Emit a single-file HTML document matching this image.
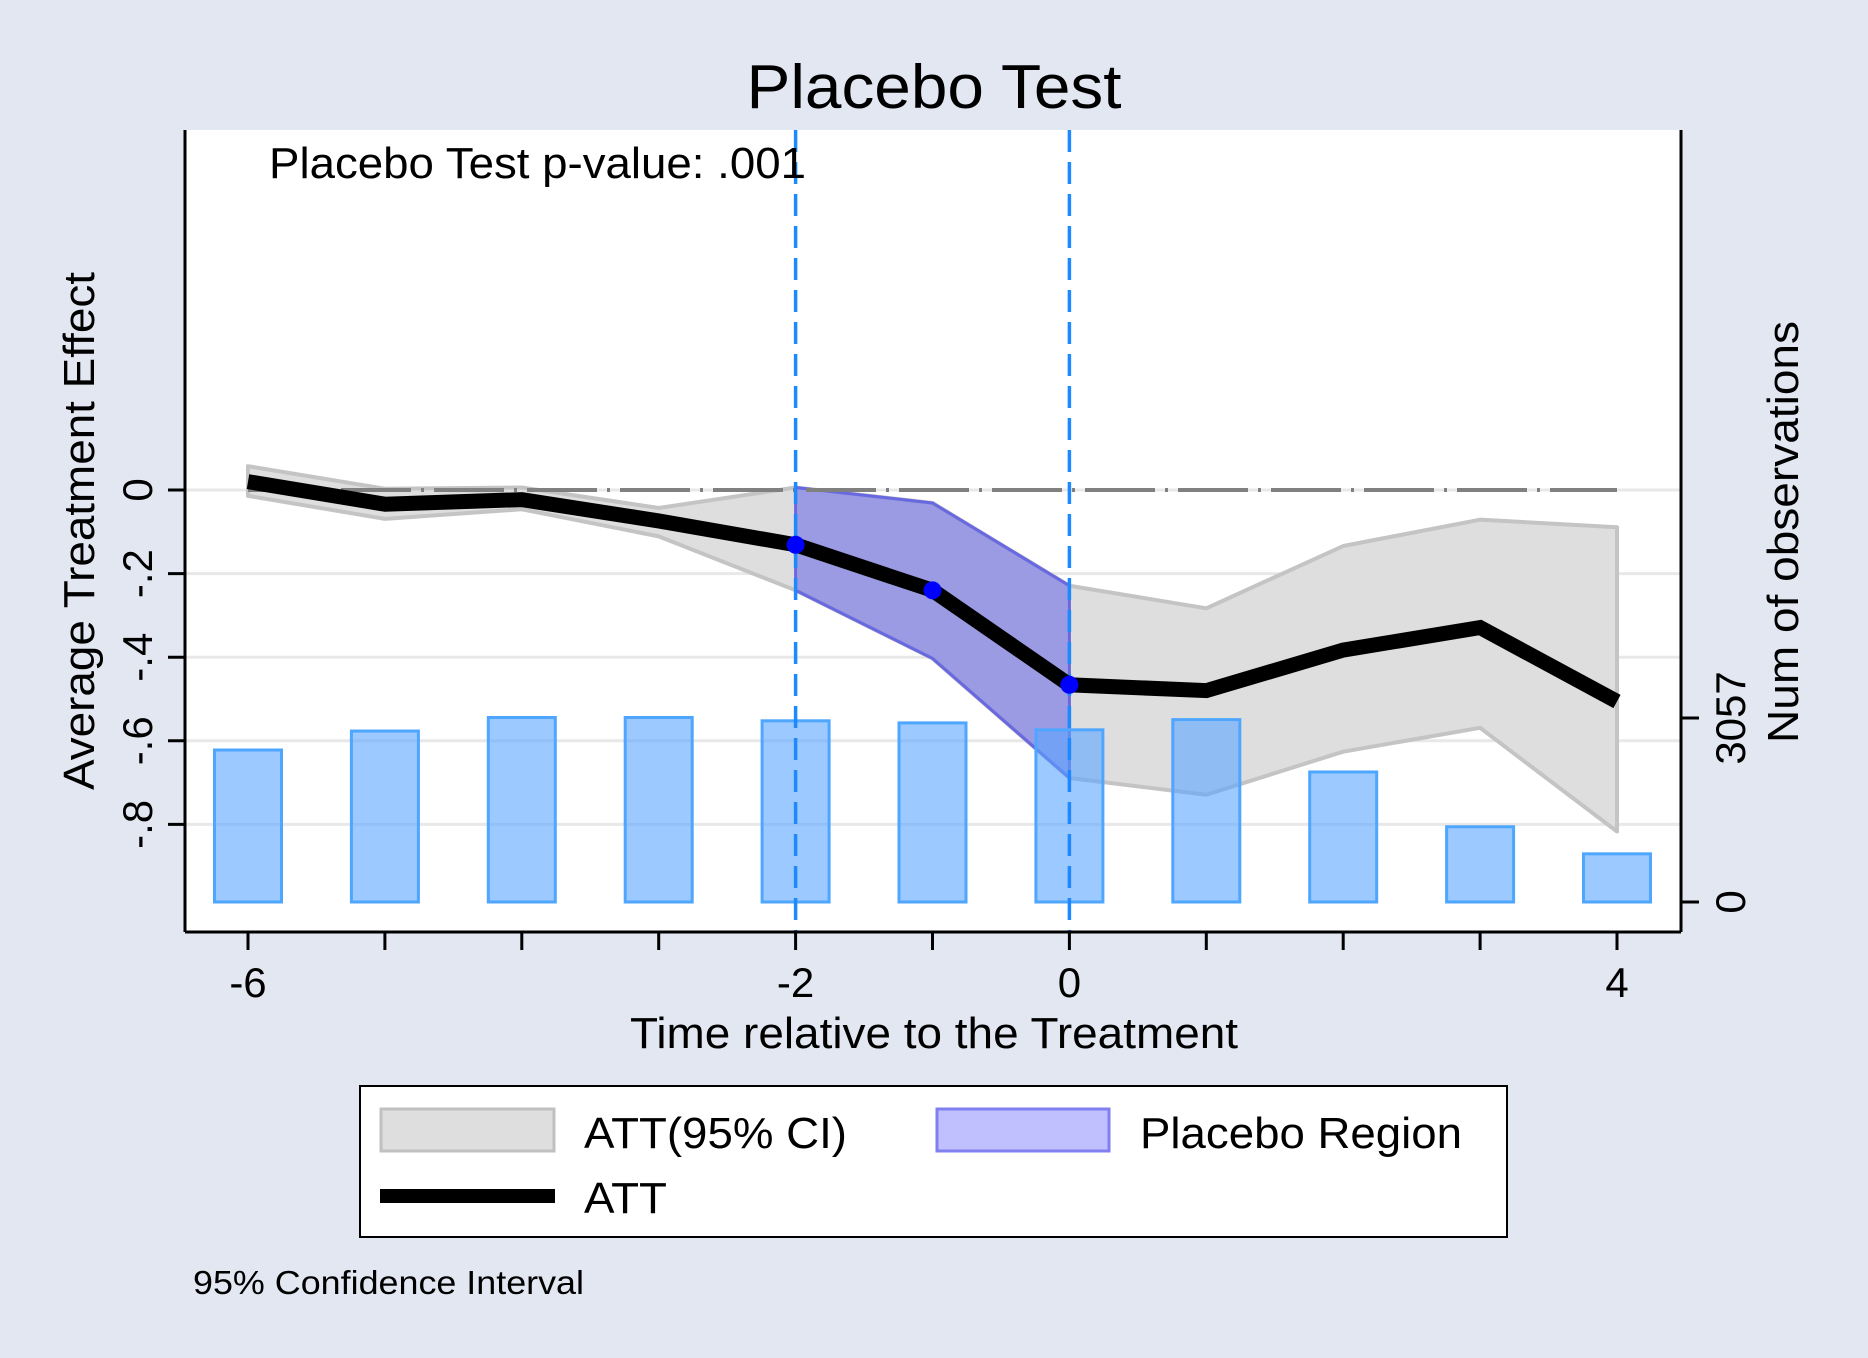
<!DOCTYPE html>
<html><head><meta charset="utf-8"><style>
body{margin:0;background:#e2e7f1;}
svg{display:block;font-family:"Liberation Sans",sans-serif;}
</style></head><body>
<svg id="chart" width="1868" height="1358" viewBox="0 0 1868 1358" xmlns="http://www.w3.org/2000/svg">
<rect x="0" y="0" width="1868" height="1358" fill="#e2e7f1"/>
<rect x="185" y="130" width="1496" height="802" fill="#ffffff"/>
<text x="934" y="108" font-size="62" text-anchor="middle" textLength="375" lengthAdjust="spacingAndGlyphs" fill="#000">Placebo Test</text>
<g id="grid"></g><g id="ci"></g><g id="bars"></g><g id="lines"></g><g id="axes"></g>
<text x="269" y="178" font-size="44" textLength="537" lengthAdjust="spacingAndGlyphs" fill="#000">Placebo Test p-value: .001</text>
<text x="934" y="1048" font-size="44" text-anchor="middle" textLength="608" lengthAdjust="spacingAndGlyphs" fill="#000">Time relative to the Treatment</text>
<text transform="translate(94,531) rotate(-90)" font-size="44" text-anchor="middle" textLength="518" lengthAdjust="spacingAndGlyphs" fill="#000">Average Treatment Effect</text>
<text transform="translate(1798,532) rotate(-90)" font-size="44" text-anchor="middle" textLength="422" lengthAdjust="spacingAndGlyphs" fill="#000">Num of observations</text>
<g>
<rect x="360" y="1086" width="1147" height="151" fill="#fff" stroke="#000" stroke-width="2"/>
<rect x="381" y="1109" width="173" height="42" fill="#dedede" stroke="#c0c0c0" stroke-width="3"/>
<text x="584" y="1148" font-size="44" textLength="263" lengthAdjust="spacingAndGlyphs">ATT(95% CI)</text>
<rect x="937" y="1109" width="172" height="42" fill="#c0c0ff" stroke="#8080f0" stroke-width="3"/>
<text x="1140" y="1148" font-size="44" textLength="322" lengthAdjust="spacingAndGlyphs">Placebo Region</text>
<line x1="380" y1="1196" x2="555" y2="1196" stroke="#000" stroke-width="14"/>
<text x="584" y="1213" font-size="44" textLength="83" lengthAdjust="spacingAndGlyphs">ATT</text>
</g>
<text x="193" y="1294" font-size="33" textLength="391" lengthAdjust="spacingAndGlyphs">95% Confidence Interval</text>
</svg>
<script>
const periods=[-6,-5,-4,-3,-2,-1,0,1,2,3,4];
const att=[0.02,-0.034,-0.023,-0.074,-0.131,-0.24,-0.466,-0.48,-0.383,-0.329,-0.506];
const ciUpper=[0.057,0.003,0.006,-0.043,0.006,-0.031,-0.229,-0.283,-0.134,-0.071,-0.089];
const ciLower=[-0.014,-0.069,-0.046,-0.111,-0.24,-0.403,-0.689,-0.729,-0.626,-0.569,-0.817];
const obs=[2525,2840,3065,3065,3010,2975,2860,3030,2160,1250,800];
const yTicks=[0,-0.2,-0.4,-0.6,-0.8];
const yTickLabels=["0","-.2","-.4","-.6","-.8"];
const xTickLabels=[-6,-2,0,4];
const rTicks=[0,3057];
const placeboStart=-2, placeboEnd=0;
const NS="http://www.w3.org/2000/svg";
const X=t=>248+(t+6)*136.9;
const Y=v=>490-v*418;
const R=n=>902-n*0.0602;
function mk(tag,attrs,parent){const e=document.createElementNS(NS,tag);for(const k in attrs)e.setAttribute(k,attrs[k]);document.getElementById(parent).appendChild(e);return e;}
yTicks.forEach(v=>{const g=mk('line',{x1:185,x2:1681,y1:Y(v),y2:Y(v),stroke:'#e8e8e8','stroke-width':3},'grid');

});
let up=periods.map((p,i)=>X(p)+','+Y(ciUpper[i])), lo=periods.map((p,i)=>X(p)+','+Y(ciLower[i])).reverse();
const ci=mk('polygon',{points:up.concat(lo).join(' '),fill:'#dedede',stroke:'#c4c4c4','stroke-width':4,'stroke-linejoin':'round'},'ci');


const idx=periods.map((p,i)=>i).filter(i=>periods[i]>=placeboStart&&periods[i]<=placeboEnd);
let pu=idx.map(i=>X(periods[i])+','+Y(ciUpper[i])), pl=idx.map(i=>X(periods[i])+','+Y(ciLower[i])).reverse();
const pr=mk('polygon',{points:pu.concat(pl).join(' '),fill:'rgba(110,110,230,0.6)',stroke:'#6868e0','stroke-width':3},'ci');


periods.forEach((p,i)=>{const b=mk('rect',{x:X(p)-33.5,y:R(obs[i]),width:67,height:R(0)-R(obs[i]),fill:'rgba(90,165,255,0.6)',stroke:'#4fa6ff','stroke-width':3},'bars');

});
const z=mk('line',{x1:X(-6),x2:X(4),y1:Y(0),y2:Y(0),stroke:'#808080','stroke-width':4,'stroke-dasharray':'70 10 3 10'},'lines');


[placeboStart,placeboEnd].forEach(p=>{const v=mk('line',{x1:X(p),x2:X(p),y1:130,y2:932,stroke:'#1e88ff','stroke-width':3.5,'stroke-dasharray':'22 10'},'lines');

});
const al=mk('polyline',{points:periods.map((p,i)=>X(p)+','+Y(att[i])).join(' '),fill:'none',stroke:'#000','stroke-width':15},'lines');


idx.forEach(i=>{const c=mk('circle',{cx:X(periods[i]),cy:Y(att[i]),r:9,fill:'#0000ff'},'lines');

});
const ax=[[185,130,185,932],[185,932,1681,932],[1681,130,1681,932]];
ax.forEach(a=>{const l=mk('line',{x1:a[0],y1:a[1],x2:a[2],y2:a[3],stroke:'#000','stroke-width':3},'axes');

});
yTicks.forEach((v,i)=>{const t=mk('line',{x1:168,x2:185,y1:Y(v),y2:Y(v),stroke:'#000','stroke-width':3},'axes');


const tx=mk('text',{transform:`translate(152,${Y(v)}) rotate(-90)`,'font-size':42,'text-anchor':'middle'},'axes');tx.textContent=yTickLabels[i];

});
periods.forEach(p=>{const t=mk('line',{x1:X(p),x2:X(p),y1:932,y2:950,stroke:'#000','stroke-width':3},'axes');

});
xTickLabels.forEach(p=>{const tx=mk('text',{x:X(p),y:997,'font-size':42,'text-anchor':'middle'},'axes');tx.textContent=p;

});
rTicks.forEach(n=>{const t=mk('line',{x1:1681,x2:1699,y1:R(n),y2:R(n),stroke:'#000','stroke-width':3},'axes');


const tx=mk('text',{transform:`translate(1745,${R(n)}) rotate(-90)`,'font-size':42,'text-anchor':'middle'},'axes');tx.textContent=n;

});
</script>
</body></html>
